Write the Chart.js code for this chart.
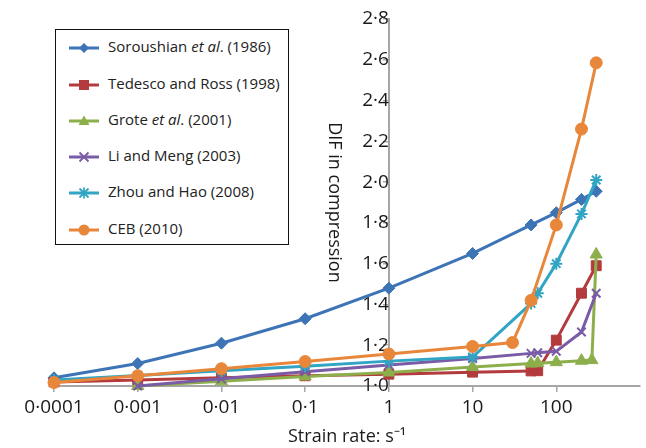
<!DOCTYPE html>
<html>
<head>
<meta charset="utf-8">
<script src="https://cdn.jsdelivr.net/npm/chart.js@4.4.0/dist/chart.umd.min.js"></script>
<style>
  html, body { margin: 0; padding: 0; background: #fff; }
  #wrap { position: relative; width: 646px; height: 448px; overflow: hidden; }
  #legend {
    position: absolute; left: 55px; top: 29px; width: 234px; height: 216px;
    border: 1.5px solid #111; box-sizing: border-box; background: #fff;
    font-family: 'Open Sans', sans-serif; font-size: 15px; color: #222;
  }
  .item { position: absolute; left: 0; height: 22px; line-height: 22px; white-space: nowrap; }
  .item svg { position: absolute; left: 13px; top: 4px; }
  .item span { position: absolute; left: 52px; top: 0; }
</style>
</head>
<body>
<div id="wrap">
  <canvas id="chart" width="648" height="448"></canvas>
  <div id="legend"></div>
</div>
<script>
// Series (strain rate in 1/s, DIF)
const sorRate = [0.0001, 0.001, 0.01, 0.1, 1, 10, 50, 100, 200, 300];
const sorDif = [1.04, 1.11, 1.21, 1.33, 1.48, 1.65, 1.79, 1.85, 1.915, 1.955];

const tedRate = [0.0001, 0.001, 0.01, 0.1, 1, 10, 50, 60, 100, 200, 300];
const tedDif = [1.02, 1.03, 1.04, 1.05, 1.058, 1.068, 1.074, 1.075, 1.225, 1.455, 1.59];

const groRate = [0.001, 0.01, 0.1, 1, 10, 50, 60, 100, 200, 266, 300];
const groDif = [1.0, 1.023, 1.047, 1.066, 1.093, 1.11, 1.112, 1.117, 1.124, 1.127, 1.645];

const liRate = [0.001, 0.01, 0.1, 1, 10, 50, 60, 100, 200, 300];
const liDif = [1.0, 1.035, 1.07, 1.103, 1.135, 1.16, 1.163, 1.17, 1.265, 1.455];

const zhouRate = [0.0001, 0.001, 0.01, 0.1, 1, 10, 50, 60, 100, 200, 300];
const zhouDif = [1.03, 1.052, 1.075, 1.097, 1.122, 1.142, 1.405, 1.455, 1.6, 1.844, 2.01];

const cebRate = [0.0001, 0.001, 0.01, 0.1, 1, 10, 30, 50, 100, 200, 300];
const cebDif = [1.017, 1.05, 1.085, 1.12, 1.157, 1.194, 1.213, 1.42, 1.79, 2.26, 2.585];

const seriesNames = [
    'Soroushian <i>et al</i>. (1986)',
    'Tedesco and Ross (1998)',
    'Grote <i>et al</i>. (2001)',
    'Li and Meng (2003)',
    'Zhou and Hao (2008)',
    'CEB (2010)'
];
const seriesColors = ['#3D74B6', '#B33A3D', '#8CAF4C', '#7A5BA5', '#31A5C3', '#E8873A'];
const seriesRates = [sorRate, tedRate, groRate, liRate, zhouRate, cebRate];
const seriesDifs = [sorDif, tedDif, groDif, liDif, zhouDif, cebDif];
const pointStyles = ['rectRot', 'rect', 'triangle', 'crossRot', 'star', 'circle'];
const pointRadii = [6, 7, 7, 6, 6, 6];

// Axis ticks
const xTickValues = [0.0001, 0.001, 0.01, 0.1, 1, 10, 100];
const xTickLabels = ['0·0001', '0·001', '0·01', '0·1', '1', '10', '100'];
const yTickValues = [1.0, 1.2, 1.4, 1.6, 1.8, 2.0, 2.2, 2.4, 2.6, 2.8];

const fontFamily = "'Open Sans', sans-serif";
const textColor = '#1a1a1a';
const axisColor = '#a6a6a6';

const datasets = seriesNames.map((name, i) => ({
    label: name.replace(/<\/?i>/g, ''),
    data: seriesRates[i].map((r, k) => ({ x: r, y: seriesDifs[i][k] })),
    borderColor: seriesColors[i],
    backgroundColor: seriesColors[i],
    borderWidth: 3,
    pointStyle: pointStyles[i],
    pointRadius: pointRadii[i],
    pointBorderWidth: (pointStyles[i] === 'crossRot' || pointStyles[i] === 'star') ? 2 : 1,
    pointBackgroundColor: seriesColors[i],
    pointBorderColor: seriesColors[i],
    tension: 0,
    clip: false,
    order: seriesNames.length - i
}));

new Chart(document.getElementById('chart'), {
    type: 'line',
    data: { datasets: datasets },
    options: {
        responsive: false,
        animation: false,
        layout: { padding: { left: 54, right: 0, top: 19, bottom: 0 } },
        plugins: { legend: { display: false }, tooltip: { enabled: false } },
        scales: {
            x: {
                type: 'logarithmic',
                min: 0.0001,
                max: 1000,
                afterBuildTicks: (scale) => {
                    scale.ticks = xTickValues.map(v => ({ value: v }));
                },
                ticks: {
                    autoSkip: false,
                    maxRotation: 0,
                    padding: 4,
                    color: textColor,
                    font: { family: fontFamily, size: 19 },
                    callback: (value) => {
                        const idx = xTickValues.indexOf(value);
                        return idx >= 0 ? xTickLabels[idx] : '';
                    }
                },
                grid: { drawOnChartArea: false, tickLength: 6, color: axisColor, lineWidth: 1.5 },
                border: { color: axisColor, width: 2 },
                title: {
                    display: true,
                    text: 'Strain rate: s⁻¹',
                    color: textColor,
                    font: { family: fontFamily, size: 18 },
                    padding: { top: 0, bottom: 0 }
                },
                afterFit: (scale) => { scale.height = 62; }
            },
            y: {
                type: 'linear',
                min: 1.0,
                max: 2.8,
                position: { x: 1 },
                afterBuildTicks: (scale) => {
                    scale.ticks = yTickValues.map(v => ({ value: v }));
                },
                ticks: {
                    padding: 4,
                    color: textColor,
                    font: { family: fontFamily, size: 19 },
                    callback: (value) => value.toFixed(1).replace('.', '·')
                },
                grid: { drawOnChartArea: false, tickLength: 5, color: axisColor, lineWidth: 1.5 },
                border: { color: axisColor, width: 2 },
                title: {
                    display: true,
                    text: 'DIF in compression',
                    color: textColor,
                    font: { family: fontFamily, size: 18 },
                    padding: 4
                }
            }
        }
    }
});

// Legend (HTML so the "et al." parts can be italic)
function markerSvg(style, color) {
    let shape = '';
    if (style === 'rectRot') shape = `<polygon points="15,4 20,9 15,14 10,9" fill="${color}"/>`;
    if (style === 'rect') shape = `<rect x="10" y="4" width="10" height="10" fill="${color}"/>`;
    if (style === 'triangle') shape = `<polygon points="15,3.5 20.5,13 9.5,13" fill="${color}"/>`;
    if (style === 'crossRot') shape = `<path d="M10.5,4.5 L19.5,13.5 M19.5,4.5 L10.5,13.5" stroke="${color}" stroke-width="1.8"/>`;
    if (style === 'star') shape = `<path d="M10.5,4.5 L19.5,13.5 M19.5,4.5 L10.5,13.5 M15,3.5 L15,14.5" stroke="${color}" stroke-width="1.8"/>`;
    if (style === 'circle') shape = `<circle cx="15" cy="9" r="5.5" fill="${color}"/>`;
    return `<svg width="30" height="18"><line x1="0" y1="9" x2="30" y2="9" stroke="${color}" stroke-width="3"/>${shape}</svg>`;
}

const legendTops = [5, 42, 78, 114, 150, 187];
const legend = document.getElementById('legend');
seriesNames.forEach((name, i) => {
    const item = document.createElement('div');
    item.className = 'item';
    item.style.top = legendTops[i] + 'px';
    item.innerHTML = markerSvg(pointStyles[i], seriesColors[i]) + `<span>${name}</span>`;
    legend.appendChild(item);
});
</script>
</body>
</html>
